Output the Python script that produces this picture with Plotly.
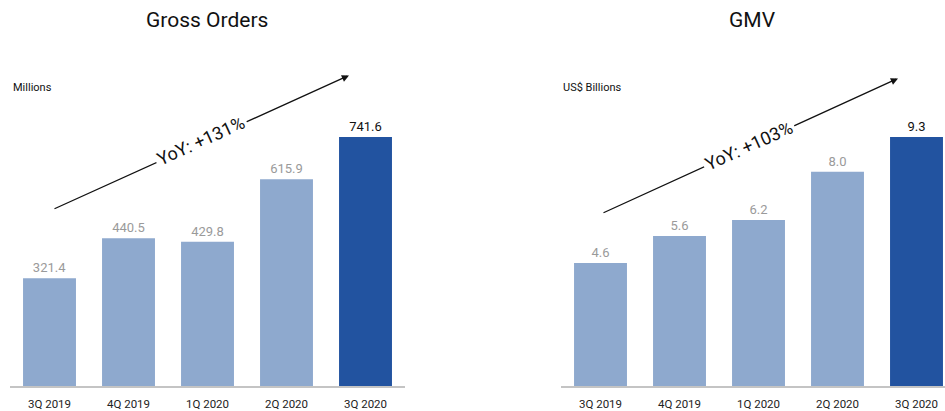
import plotly.graph_objects as go

quarters = ["3Q 2019", "4Q 2019", "1Q 2020", "2Q 2020", "3Q 2020"]
gross_orders = [321.4, 440.5, 429.8, 615.9, 741.6]
gmv = [4.6, 5.6, 6.2, 8.0, 9.3]
gross_orders_labels = ["321.4", "440.5", "429.8", "615.9", "741.6"]
gmv_labels = ["4.6", "5.6", "6.2", "8.0", "9.3"]

LIGHT = "#8EA9CE"
DARK = "#2253A0"
bar_colors = [LIGHT, LIGHT, LIGHT, LIGHT, DARK]
label_colors = ["#9a9a9a", "#9a9a9a", "#9a9a9a", "#9a9a9a", "#111111"]

W, H = 945, 411
FONT = "Roboto"

fig = go.Figure()
fig.add_trace(go.Bar(x=quarters, y=gross_orders, text=gross_orders_labels,
                     textposition="outside", cliponaxis=False,
                     textfont=dict(color=label_colors, size=13, family=FONT),
                     marker=dict(color=bar_colors, line=dict(width=0)),
                     xaxis="x", yaxis="y", hoverinfo="skip"))
fig.add_trace(go.Bar(x=quarters, y=gmv, text=gmv_labels,
                     textposition="outside", cliponaxis=False,
                     textfont=dict(color=label_colors, size=13, family=FONT),
                     marker=dict(color=bar_colors, line=dict(width=0)),
                     xaxis="x2", yaxis="y2", hoverinfo="skip"))

base_px = 389
top_px = 60
ydom = [(H - base_px) / H, (H - top_px) / H]
plot_h = base_px - top_px
slot = 79
left_range_max = plot_h / (251 / 741.6)
right_range_max = plot_h / (251 / 9.3)

xcommon = dict(showline=True, linecolor="#c4c4c4", linewidth=1.5,
               ticks="outside", ticklen=6, tickcolor="rgba(0,0,0,0)",
               tickfont=dict(size=11.5, color="#222", family=FONT),
               showgrid=False, zeroline=False, fixedrange=True)
ycommon = dict(visible=False, showgrid=False, zeroline=False, fixedrange=True)

fig.update_layout(
    width=W, height=H,
    margin=dict(l=0, r=0, t=0, b=0),
    paper_bgcolor="white", plot_bgcolor="white",
    showlegend=False, bargap=0.33,
    font=dict(family=FONT),
    xaxis=dict(domain=[10 / W, 405 / W], range=[-0.5, 4.5], anchor="y", **xcommon),
    yaxis=dict(domain=ydom, range=[0, left_range_max], anchor="x", **ycommon),
    xaxis2=dict(domain=[561 / W, 1.0], range=[-0.5, -0.5 + (W - 561) / slot], anchor="y2", **xcommon),
    yaxis2=dict(domain=ydom, range=[0, right_range_max], anchor="x2", **ycommon),
)

def px(x, y):
    return x / W, 1 - y / H

annotations = []
# titles
for text, cx in [("Gross Orders", 207), ("GMV", 752)]:
    x, y = px(cx, 20)
    annotations.append(dict(text=text, x=x, y=y, xref="paper", yref="paper",
                            showarrow=False, xanchor="center", yanchor="middle",
                            font=dict(size=21, color="#111", family=FONT)))
# units
for text, lx in [("Millions", 11), ("US$ Billions", 561)]:
    x, y = px(lx, 88)
    annotations.append(dict(text=text, x=x, y=y, xref="paper", yref="paper",
                            showarrow=False, xanchor="left", yanchor="middle",
                            font=dict(size=11, color="#111", family=FONT)))
# arrows
for (hx, hy), (tx, ty) in [((349, 76), (53, 210)), ((898, 79), (602, 214))]:
    x, y = px(hx, hy)
    annotations.append(dict(text="", x=x, y=y, xref="paper", yref="paper",
                            ax=tx - hx, ay=ty - hy, showarrow=True,
                            arrowhead=2, arrowsize=1.1, arrowwidth=1.3,
                            arrowcolor="#111"))
# YoY text
for text, (cx, cy) in [("YoY: +131%", (201, 142)), ("YoY: +103%", (749, 147))]:
    x, y = px(cx, cy)
    annotations.append(dict(text=text, x=x, y=y, xref="paper", yref="paper",
                            showarrow=False, textangle=-24.3, bgcolor="white",
                            borderpad=2, xanchor="center", yanchor="middle",
                            font=dict(size=18, color="#111", family=FONT)))

fig.update_layout(annotations=annotations)
fig.write_html("out.html", config={"displayModeBar": False},
               post_script="document.body.style.margin='0';document.body.style.overflow='hidden';")
